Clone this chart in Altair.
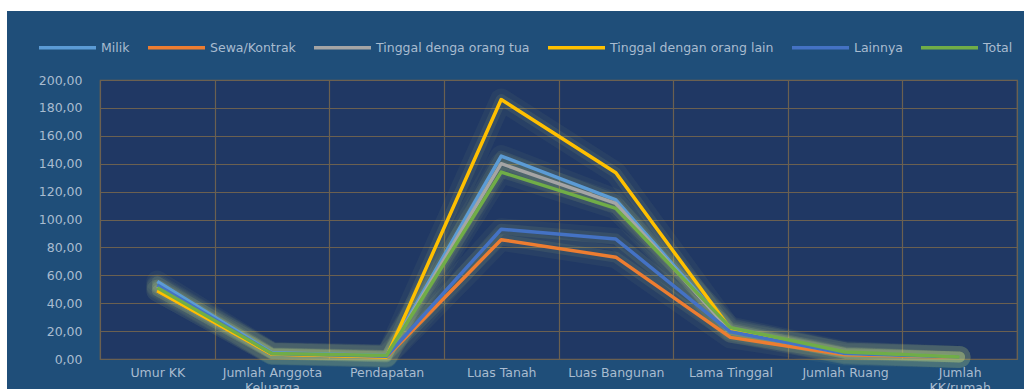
import altair as alt
import pandas as pd

categories = ["Umur KK", "Jumlah Anggota Keluarga", "Pendapatan", "Luas Tanah",
              "Luas Bangunan", "Lama Tinggal", "Jumlah Ruang", "Jumlah KK/rumah"]
series_names = ["Milik", "Sewa/Kontrak", "Tinggal denga orang tua",
                "Tinggal dengan orang lain", "Lainnya", "Total"]
milik = [55.5, 4.5, 2.5, 145.5, 114.0, 21.0, 4.5, 1.5]
sewa = [49.0, 3.5, 1.5, 85.5, 73.0, 15.5, 3.0, 1.2]
ortu = [52.0, 4.0, 2.0, 140.0, 111.5, 20.0, 4.0, 1.4]
orang_lain = [49.0, 3.5, 1.5, 186.0, 133.5, 21.5, 4.0, 1.5]
lainnya = [53.0, 4.0, 2.0, 93.0, 86.0, 19.5, 4.0, 1.4]
total = [51.0, 4.0, 2.5, 134.0, 108.0, 22.5, 5.0, 1.5]
colors = ["#5B9BD5", "#ED7D31", "#A5A5A5", "#FFC000", "#4472C4", "#70AD47"]
y_ticks = [0, 20, 40, 60, 80, 100, 120, 140, 160, 180, 200]

rows = []
for name, vals in zip(series_names, [milik, sewa, ortu, orang_lain, lainnya, total]):
    for c, v in zip(categories, vals):
        rows.append({"Kategori": c, "Seri": name, "Nilai": v})
df = pd.DataFrame(rows)

TXT = "#A9BCD0"
GRID = "#6B6050"
FONT = "DejaVu Sans"

x = alt.X("Kategori:N", sort=categories,
          scale=alt.Scale(type="band", paddingInner=0, paddingOuter=0),
          axis=alt.Axis(title=None, tickBand="extent", labelAngle=0, domain=False,
                        ticks=False, grid=True, gridColor=GRID, gridWidth=1.2,
                        labelColor=TXT, labelFont=FONT, labelFontSize=12.5,
                        labelPadding=7, labelLineHeight=15,
                        labelExpr="datum.value == 'Jumlah Anggota Keluarga' ? ['Jumlah Anggota', 'Keluarga'] : datum.value == 'Jumlah KK/rumah' ? ['Jumlah', 'KK/rumah'] : datum.value"))
y = alt.Y("Nilai:Q", scale=alt.Scale(domain=[0, 200], nice=False),
          axis=alt.Axis(title=None, values=y_ticks, domain=False, ticks=False,
                        gridColor=GRID, gridWidth=1.2, labelColor=TXT, labelFont=FONT,
                        labelFontSize=12.5, labelPadding=18,
                        labelExpr="replace(format(datum.value, '.2f'), '.', ',')"))

base = alt.Chart(df)
glow1 = base.mark_line(strokeWidth=22, opacity=0.05, color="#C8E08A",
                       strokeCap="round", strokeJoin="round").encode(x=x, y=y, detail="Seri:N")
glow2 = base.mark_line(strokeWidth=11, opacity=0.09, color="#C8E08A",
                       strokeCap="round", strokeJoin="round").encode(x=x, y=y, detail="Seri:N")
lines = base.mark_line(strokeWidth=3.5, strokeJoin="round").encode(
    x=x, y=y,
    color=alt.Color("Seri:N", sort=series_names,
                    scale=alt.Scale(domain=series_names, range=colors),
                    legend=alt.Legend(title=None, orient="none", legendX=-63, legendY=-63,
                                      direction="horizontal", symbolType="stroke",
                                      symbolSize=3249, symbolStrokeWidth=3.5,
                                      labelOffset=3, columnPadding=11, labelLimit=400,
                                      labelColor=TXT, labelFont=FONT, labelFontSize=12.5)),
)

frame = pd.DataFrame({"k": [0]})
white_left = alt.Chart(frame).mark_rect(color="white", clip=False).encode(
    x=alt.value(-100), x2=alt.value(-93), y=alt.value(-80), y2=alt.value(309))
white_top = alt.Chart(frame).mark_rect(color="white", clip=False).encode(
    x=alt.value(-100), x2=alt.value(924), y=alt.value(-80), y2=alt.value(-69))

chart = alt.layer(glow1, glow2, lines, white_left, white_top).properties(
    width=917, height=279,
    autosize=alt.AutoSizeParams(type="none"),
    padding={"left": 100, "top": 80, "right": 7, "bottom": 30},
    background="#1F4E79",
).configure_view(fill="#203864", stroke=GRID, strokeWidth=1.2)

chart.save("out.html", embed_options={"renderer": "svg", "actions": False})
